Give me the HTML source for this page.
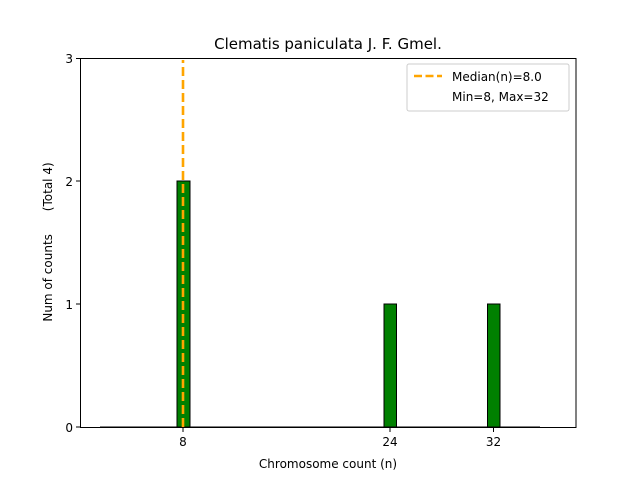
<!DOCTYPE html>
<html><head><style>body{margin:0;background:#fff}text{white-space:pre}</style></head><body>
<svg width="640" height="480" xmlns="http://www.w3.org/2000/svg" font-family="DejaVu Sans, Liberation Sans, sans-serif">
<rect width="640" height="480" fill="#fff"/>
<rect x="177" y="181" width="13" height="246" fill="#008000" stroke="#000" stroke-width="1"/>
<rect x="384" y="304" width="12.5" height="123" fill="#008000" stroke="#000" stroke-width="1"/>
<rect x="487.5" y="304" width="12.5" height="123" fill="#008000" stroke="#000" stroke-width="1"/>
<line x1="100" y1="427" x2="540" y2="427" stroke="#000" stroke-width="1"/>
<line x1="183" y1="427" x2="183" y2="60" stroke="#FFA500" stroke-width="2.6" stroke-dasharray="9,4"/>
<rect x="80.5" y="58.5" width="495.5" height="369" fill="none" stroke="#000" stroke-width="1"/>
<g stroke="#000"><line x1="76" y1="427" x2="80" y2="427"/><line x1="76" y1="304" x2="80" y2="304"/><line x1="76" y1="181" x2="80" y2="181"/><line x1="76" y1="58.5" x2="80" y2="58.5"/>
<line x1="183" y1="428" x2="183" y2="432"/><line x1="390" y1="428" x2="390" y2="432"/><line x1="493.5" y1="428" x2="493.5" y2="432"/></g>
<g font-size="12" text-anchor="end"><text x="73" y="432">0</text><text x="73" y="309">1</text><text x="73" y="186">2</text><text x="73" y="63">3</text></g>
<g font-size="12" text-anchor="middle"><text x="183" y="446">8</text><text x="390" y="446">24</text><text x="493.5" y="446">32</text>
<text x="328" y="468">Chromosome count (n)</text>
<text x="328" y="49" font-size="15">Clematis paniculata J. F. Gmel.</text>
<text transform="translate(52,242) rotate(-90)" xml:space="preserve">Num of counts      (Total 4)</text></g>
<rect x="407" y="64" width="162" height="47" rx="2" fill="#fff" stroke="#ccc"/>
<line x1="414" y1="76" x2="442" y2="76" stroke="#FFA500" stroke-width="2.4" stroke-dasharray="8,3.5"/>
<text x="452" y="81" font-size="12">Median(n)=8.0</text>
<text x="452" y="101" font-size="12">Min=8, Max=32</text>
</svg>
</body></html>
